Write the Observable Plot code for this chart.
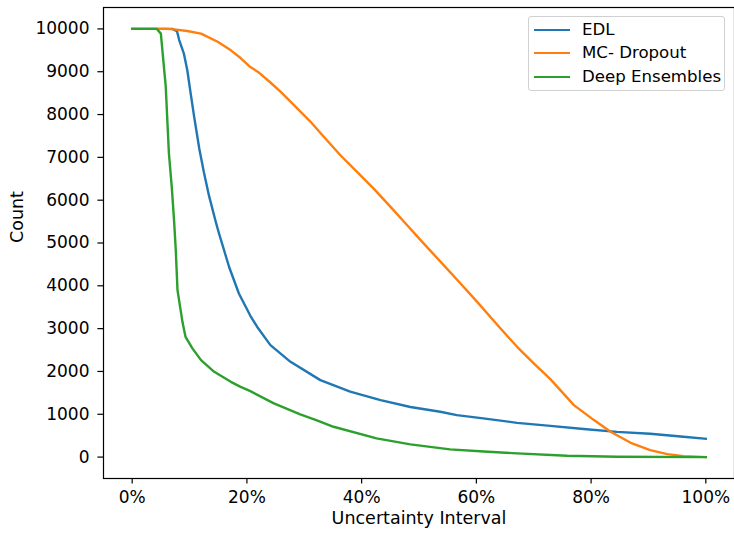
<!DOCTYPE html>
<html>
<head>
<meta charset="utf-8">
<script src="https://cdn.jsdelivr.net/npm/d3@7"></script>
<script src="https://cdn.jsdelivr.net/npm/@observablehq/plot@0.6"></script>
<style>
  body { margin: 0; background: white; }
  #wrap { position: relative; width: 734px; height: 533px; font-family: "DejaVu Sans", sans-serif; }
  #legend { position: absolute; left: 528px; top: 16px; width: 197px; height: 75px; box-sizing: border-box;
    border: 1px solid #d0d0d0; border-radius: 3px; background: rgba(255,255,255,0.8); font-size: 16.6px; color: #000; }
  .item { position: absolute; left: 0; height: 20px; }
  .swatch { position: absolute; left: 5px; width: 36px; height: 0; border-top: 2.4px solid; }
  .lab { position: absolute; left: 53px; white-space: nowrap; line-height: 20px; top: -10px; }
</style>
</head>
<body>
<div id="wrap"></div>
<script>
// Series names and colours
const seriesNames = ["EDL", "MC- Dropout", "Deep Ensembles"];
const seriesColors = ["#1f77b4", "#ff7f0e", "#2ca02c"];

// Tick values
const xTicks = [0, 20, 40, 60, 80, 100];
const yTicks = [0, 1000, 2000, 3000, 4000, 5000, 6000, 7000, 8000, 9000, 10000];

// EDL (x in %, count)
const edlX = [0, 7.0, 7.8, 8.2, 9.0, 9.6, 10.2, 10.8, 11.7, 12.5, 13.4, 14.6, 15.1, 16.9, 18.6, 20.6, 21.8, 24.1, 27.6, 32.8, 38, 43.3, 48.5, 53.7, 56.6, 61.2, 67.1, 72.9, 78.7, 84.5, 90.3, 96.1, 100];
const edlY = [10000, 10000, 9950, 9740, 9430, 9040, 8490, 7950, 7200, 6650, 6100, 5480, 5240, 4440, 3820, 3300, 3040, 2615, 2225, 1798, 1530, 1331, 1170, 1058, 980, 903, 800, 730, 655, 590, 545, 475, 428];

// MC- Dropout
const mcX = [0, 6, 7.3, 9.6, 12, 14.9, 17.2, 18.9, 20.6, 22, 24, 25.9, 28.2, 31.1, 33.4, 36.3, 39.2, 42.1, 45, 47.9, 50.8, 53.7, 57, 60.1, 64.1, 67.1, 70, 72.9, 77, 80.5, 83.4, 86.9, 90.3, 93.3, 96.1, 100];
const mcY = [10000, 10000, 9990, 9950, 9890, 9700, 9500, 9320, 9110, 8990, 8760, 8530, 8220, 7830, 7480, 7050, 6660, 6270, 5850, 5420, 4990, 4570, 4090, 3630, 3020, 2576, 2190, 1820, 1214, 864, 591, 334, 163, 70, 23, 0];

// Deep Ensembles
const deX = [0, 4.3, 5.0, 5.85, 6.4, 6.9, 7.3, 7.6, 7.9, 8.8, 9.3, 10.5, 12, 14.3, 17.2, 18.9, 20.6, 24.7, 29.3, 32.2, 35.1, 42.6, 48.5, 55.4, 61.3, 67.1, 75.8, 84.5, 100];
const deY = [10000, 10000, 9890, 8650, 7100, 6310, 5530, 4830, 3900, 3130, 2810, 2540, 2265, 1992, 1758, 1641, 1540, 1254, 1000, 860, 708, 436, 296, 180, 130, 86, 31, 8, 0];

const rows = (xs, ys, s) => xs.map((x, i) => ({x, y: ys[i], s}));
const data = [
  ...rows(edlX, edlY, seriesNames[0]),
  ...rows(mcX, mcY, seriesNames[1]),
  ...rows(deX, deY, seriesNames[2])
];

const chart = Plot.plot({
  width: 734,
  height: 533,
  marginLeft: 103,
  marginRight: 0,
  marginTop: 7,
  marginBottom: 55,
  style: { fontFamily: "DejaVu Sans", fontSize: "17px", background: "white", color: "black" },
  x: { domain: [-5, 105] },
  y: { domain: [-500, 10500] },
  color: { domain: seriesNames, range: seriesColors },
  marks: [
    Plot.axisX({ ticks: xTicks, tickFormat: d => d + "%", tickSize: 5.6, tickPadding: 7, label: null, strokeWidth: 1.2, fontSize: 17 }),
    Plot.axisY({ ticks: yTicks, tickFormat: d => String(d), tickSize: 5.6, tickPadding: 8.4, label: null, strokeWidth: 1.2, fontSize: 17 }),
    Plot.line(data, { x: "x", y: "y", z: "s", stroke: "s", strokeWidth: 2.4, strokeLinejoin: "round", strokeLinecap: "square" }),
    Plot.frame({ stroke: "black", strokeWidth: 1.2 }),
    Plot.text(["Uncertainty Interval"], { text: d => d, frameAnchor: "bottom", dy: 45, fontSize: 17.5 }),
    Plot.text(["Count"], { text: d => d, frameAnchor: "left", dx: -86, rotate: -90, fontSize: 17.5 })
  ]
});

const wrap = document.getElementById("wrap");
wrap.appendChild(chart);

const legend = document.createElement("div");
legend.id = "legend";
const rowTops = [13, 36, 60];
seriesNames.forEach((name, i) => {
  const it = document.createElement("div");
  it.className = "item";
  it.style.top = rowTops[i] + "px";
  const sw = document.createElement("div");
  sw.className = "swatch";
  sw.style.borderTopColor = seriesColors[i];
  sw.style.top = "-1px";
  const lb = document.createElement("div");
  lb.className = "lab";
  lb.textContent = name;
  it.appendChild(sw);
  it.appendChild(lb);
  legend.appendChild(it);
});
wrap.appendChild(legend);
</script>
</body>
</html>
